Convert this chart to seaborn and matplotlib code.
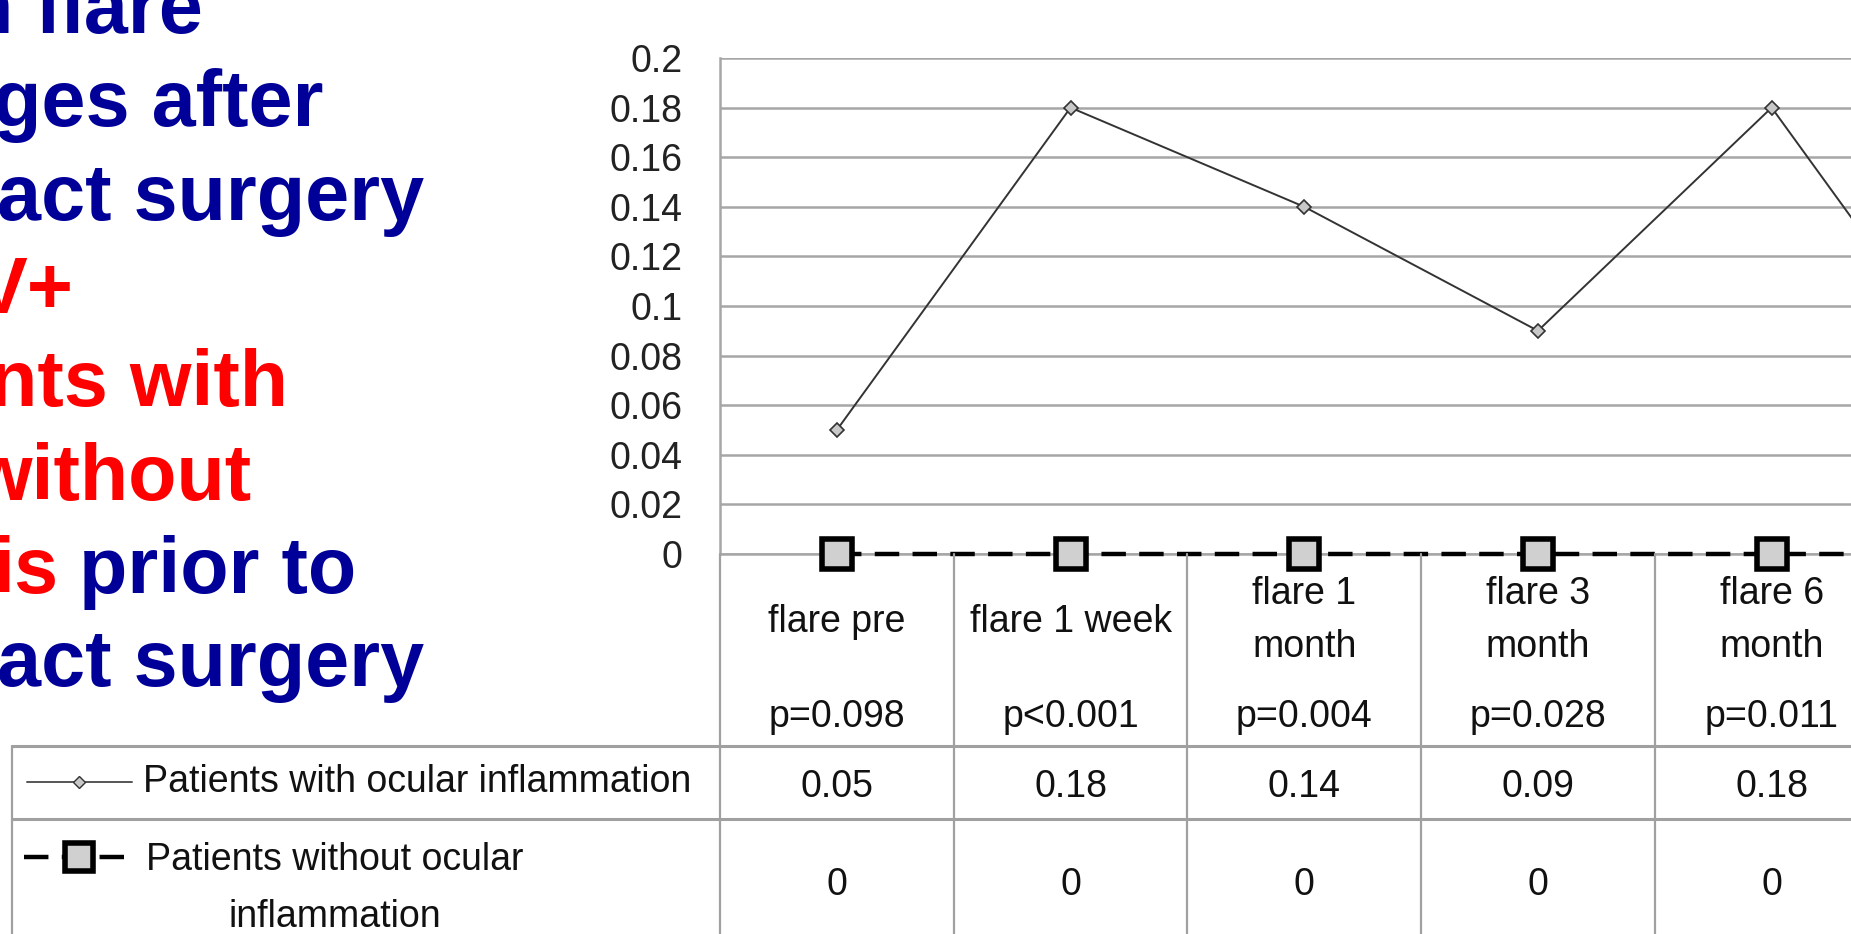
import matplotlib
matplotlib.use("Agg")
import matplotlib.pyplot as plt
import matplotlib.transforms as mtransforms
from matplotlib.lines import Line2D
import seaborn as sns
import numpy as np

# data (last column runs off the right edge)
categories = ["flare pre", "flare 1 week", "flare 1\nmonth", "flare 3\nmonth", "flare 6\nmonth", ""]
p_values = ["p=0.098", "p<0.001", "p=0.004", "p=0.028", "p=0.011", ""]
with_inflammation = [0.05, 0.18, 0.14, 0.09, 0.18, 0.05]
without_inflammation = [0, 0, 0, 0, 0, 0]
y_ticks = [0, 0.02, 0.04, 0.06, 0.08, 0.1, 0.12, 0.14, 0.16, 0.18, 0.2]

title_lines = [
    [("n flare", "#000099")],
    [("ges after", "#000099")],
    [("act surgery", "#000099")],
    [("V+", "#ff0000")],
    [("nts with", "#ff0000")],
    [("without", "#ff0000")],
    [("is", "#ff0000"), ("prior to", "#000099")],
    [("act surgery", "#000099")],
]

W, H = 1851, 934
sns.set_theme(style="white")
plt.rcParams["font.family"] = ["Liberation Sans", "DejaVu Sans"]

fig = plt.figure(figsize=(W / 100, H / 100), dpi=100)


def fx(px):
    return px / W


def fy(py):
    return 1 - py / H


col_w = 233.7
ax_left, ax_top, ax_bottom = 720, 58, 554
ax = fig.add_axes([fx(ax_left), fy(ax_bottom), 6 * col_w / W, (ax_bottom - ax_top) / H])

x = np.arange(len(categories))
sns.lineplot(x=x, y=with_inflammation, ax=ax, color="#333333", lw=1.4,
             marker="D", markersize=7, markerfacecolor="#c8c8c8",
             markeredgecolor="#333333", markeredgewidth=1.2, clip_on=False, zorder=4)
sns.lineplot(x=x, y=without_inflammation, ax=ax, color="black", lw=3.2,
             linestyle=(0, (5.5, 3)), marker="s", markersize=22,
             markerfacecolor="#d0d0d0", markeredgecolor="black",
             markeredgewidth=4, clip_on=False, zorder=5)

ax.set_xlim(-0.5, 5.5)
ax.set_ylim(0, 0.2)
ax.set_yticks(y_ticks)
ax.set_yticklabels([f"{v:g}" for v in y_ticks], fontsize=27, color="#222222")
ax.tick_params(axis="y", length=0, pad=27)
ax.set_xticks([])
ax.set_xlabel("")
ax.set_ylabel("")
ax.yaxis.grid(True, color="#a6a6a6", lw=1.8)
ax.set_axisbelow(True)
for side in ["top", "right"]:
    ax.spines[side].set_visible(False)
for side in ["left", "bottom"]:
    ax.spines[side].set_color("#a6a6a6")
    ax.spines[side].set_linewidth(1.8)

grid_c = "#a0a0a0"
bt = mtransforms.blended_transform_factory(ax.transData, fig.transFigure)

# column separators of the data table
for k in range(len(categories) + 1):
    fig.add_artist(Line2D([k - 0.5, k - 0.5], [fy(ax_bottom), fy(H + 30)], transform=bt,
                          color=grid_c, lw=1.6, clip_on=False))
# row lines and left border
for yy in [746, 819]:
    fig.add_artist(Line2D([fx(12), fx(W + 10)], [fy(yy), fy(yy)], color=grid_c, lw=2.2))
fig.add_artist(Line2D([fx(12), fx(12)], [fy(746), fy(H + 30)], color=grid_c, lw=1.6))

fs = 27
for i, (name, p) in enumerate(zip(categories, p_values)):
    # the last column lies past the right edge of the slide crop
    if ax_left + (i + 0.5) * col_w > W:
        continue
    parts = name.split("\n")
    if len(parts) == 1:
        ys = [622]
    else:
        ys = [594, 647]
    for part, yy in zip(parts, ys):
        fig.text(i, fy(yy), part, transform=bt, ha="center", va="center", fontsize=fs, color="#111111")
    fig.text(i, fy(717), p, transform=bt, ha="center", va="center", fontsize=fs, color="#111111")
    fig.text(i, fy(787), f"{with_inflammation[i]:g}", transform=bt, ha="center", va="center",
             fontsize=fs, color="#111111")
    fig.text(i, fy(885), f"{without_inflammation[i]:g}", transform=bt, ha="center", va="center",
             fontsize=fs, color="#111111")

# legend keys in the table
fig.add_artist(Line2D([fx(27), fx(79), fx(132)], [fy(782)] * 3, color="#555555", lw=1.4,
                      marker="D", markersize=6, markevery=[1], markerfacecolor="#c8c8c8",
                      markeredgecolor="#333333"))
fig.add_artist(Line2D([fx(24), fx(79), fx(125)], [fy(857)] * 3, color="black", lw=3.2,
                      linestyle=(0, (5.5, 3)), marker="s", markersize=20, markevery=[1],
                      markerfacecolor="#d0d0d0", markeredgecolor="black", markeredgewidth=4))
fig.text(fx(143), fy(782), "Patients with ocular inflammation", ha="left", va="center",
         fontsize=fs, color="#111111")
fig.text(fx(335), fy(860), "Patients without ocular", ha="center", va="center",
         fontsize=fs, color="#111111")
fig.text(fx(335), fy(917), "inflammation", ha="center", va="center", fontsize=fs, color="#111111")

# slide heading, cut off at the left edge
starts = [-35, -7, -3, -26, -11, -30, -7, -3]
second_start = 79
for i, (line, x0) in enumerate(zip(title_lines, starts)):
    base = 33 + 93.3 * i
    for j, (txt, col) in enumerate(line):
        xx = x0 if j == 0 else second_start
        fig.text(fx(xx), fy(base), txt, ha="left", va="baseline", fontsize=57,
                 fontweight="bold", color=col)

fig.savefig("out.png", dpi=100)
